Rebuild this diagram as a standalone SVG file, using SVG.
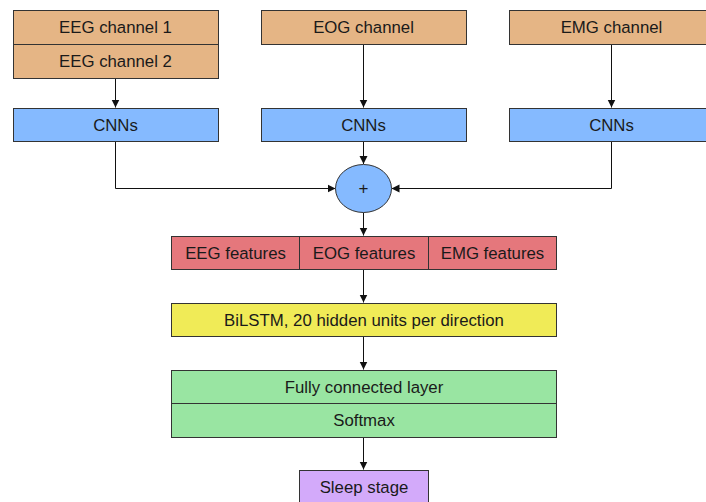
<svg xmlns="http://www.w3.org/2000/svg" width="706" height="502" viewBox="0 0 706 502">
  <style>
    .box { stroke: #333; stroke-width: 1; }
    .in { fill: #E5B585; }
    .cnn { fill: #85BAFF; }
    .feat { fill: #E5777C; }
    .lstm { fill: #F0EB57; }
    .fc { fill: #99E5A2; }
    .out { fill: #D3AAFA; }
    .lbl { font-family: "Liberation Sans", Arial, sans-serif; font-size: 16.8px; fill: #1a1a1a; text-anchor: middle; dominant-baseline: central; }
    .wire { fill: none; stroke: #111; stroke-width: 1; }
  </style>
  <defs>
    <marker id="arrow" viewBox="0 0 8 10" refX="8" refY="5" markerWidth="8" markerHeight="10" markerUnits="userSpaceOnUse" orient="auto">
      <path d="M0,1 L8,5 L0,9 Z" fill="#111"/>
    </marker>
  </defs>
  <rect width="706" height="502" fill="#fff"/>

  <g id="connectors">
    <path class="wire" d="M115.5,78 V107.5" marker-end="url(#arrow)"/>
    <path class="wire" d="M363.5,44 V107.5" marker-end="url(#arrow)"/>
    <path class="wire" d="M611.5,44 V107.5" marker-end="url(#arrow)"/>
    <path class="wire" d="M115.5,141 V188.5 H335.5" marker-end="url(#arrow)"/>
    <path class="wire" d="M363.5,141 V164" marker-end="url(#arrow)"/>
    <path class="wire" d="M611.5,141 V188.5 H391.5" marker-end="url(#arrow)"/>
    <path class="wire" d="M363.5,212.5 V235.5" marker-end="url(#arrow)"/>
    <path class="wire" d="M363.5,269 V302.5" marker-end="url(#arrow)"/>
    <path class="wire" d="M363.5,336.5 V369.5" marker-end="url(#arrow)"/>
    <path class="wire" d="M363.5,437.5 V469.5" marker-end="url(#arrow)"/>
  </g>

  <g id="eeg-input">
    <rect class="box in" x="13.5" y="10.5" width="205" height="34"/>
    <text class="lbl" x="115.5" y="27">EEG channel 1</text>
    <rect class="box in" x="13.5" y="44.5" width="205" height="34"/>
    <text class="lbl" x="115.5" y="61">EEG channel 2</text>
  </g>
  <g id="eog-input">
    <rect class="box in" x="261.5" y="10.5" width="205" height="34"/>
    <text class="lbl" x="363.5" y="27">EOG channel</text>
  </g>
  <g id="emg-input">
    <rect class="box in" x="509.5" y="10.5" width="205" height="34"/>
    <text class="lbl" x="611.5" y="27">EMG channel</text>
  </g>

  <g id="eeg-cnn">
    <rect class="box cnn" x="13.5" y="108.5" width="205" height="33"/>
    <text class="lbl" x="115.5" y="125">CNNs</text>
  </g>
  <g id="eog-cnn">
    <rect class="box cnn" x="261.5" y="108.5" width="205" height="33"/>
    <text class="lbl" x="363.5" y="125">CNNs</text>
  </g>
  <g id="emg-cnn">
    <rect class="box cnn" x="509.5" y="108.5" width="205" height="33"/>
    <text class="lbl" x="611.5" y="125">CNNs</text>
  </g>

  <g id="concat">
    <ellipse class="box cnn" cx="363.5" cy="188.5" rx="28" ry="24"/>
    <text class="lbl" x="363.5" y="188" style="font-size:17px">+</text>
  </g>

  <g id="features">
    <rect class="box feat" x="171.5" y="236.5" width="128" height="33"/>
    <text class="lbl" x="235.5" y="253">EEG features</text>
    <rect class="box feat" x="299.5" y="236.5" width="129" height="33"/>
    <text class="lbl" x="364" y="253">EOG features</text>
    <rect class="box feat" x="428.5" y="236.5" width="128" height="33"/>
    <text class="lbl" x="492.5" y="253">EMG features</text>
  </g>

  <g id="bilstm">
    <rect class="box lstm" x="171.5" y="303.5" width="385" height="33"/>
    <text class="lbl" x="364" y="320">BiLSTM, 20 hidden units per direction</text>
  </g>

  <g id="classifier">
    <rect class="box fc" x="171.5" y="370.5" width="385" height="33"/>
    <text class="lbl" x="364" y="387">Fully connected layer</text>
    <rect class="box fc" x="171.5" y="403.5" width="385" height="34"/>
    <text class="lbl" x="364" y="420">Softmax</text>
  </g>

  <g id="sleep-stage">
    <rect class="box out" x="299.5" y="470.5" width="129" height="34"/>
    <text class="lbl" x="364" y="487">Sleep stage</text>
  </g>
</svg>
